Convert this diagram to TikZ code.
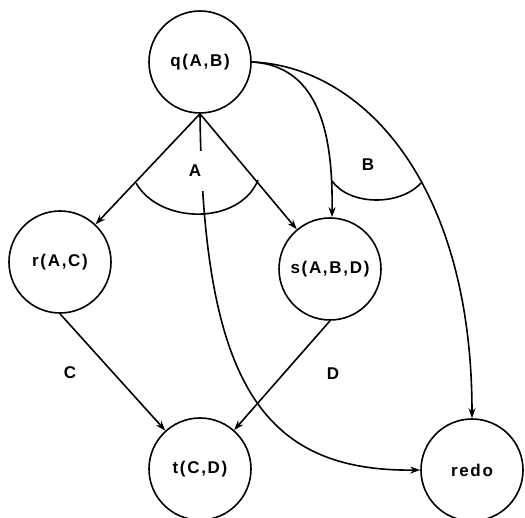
\documentclass[tikz,border=0pt]{standalone}
\usepackage{fontspec}
\setmainfont{Liberation Sans}
\newfontfamily\labfont[LetterSpace=10]{Liberation Sans}
\usetikzlibrary{arrows.meta}
\begin{document}
\begin{tikzpicture}[x=1pt,y=-1pt,
  state/.style={circle,draw,line width=1.6pt,minimum size=102pt,inner sep=0pt,font=\labfont\bfseries\fontsize{17}{19}\selectfont},
  lbl/.style={font=\labfont\bfseries\fontsize{17}{19}\selectfont},
  edge/.style={line width=1.6pt,-{Stealth[length=10pt,width=7pt]}},
  plain/.style={line width=1.6pt}]
\useasboundingbox[fill=white] (0,0) rectangle (525,518);
\node[state] (q) at (200,62) {q(A,B)};
\node[state] (r) at (60,262) {r(A,C)};
\node[state] (s) at (330,269) {s(A,B,D)};
\node[state] (t) at (200,469) {t(C,D)};
\node[state] (redo) at (472,470) {redo};
\coordinate (a1) at (136,183);
\coordinate (a2) at (258,180);
\coordinate (b1) at (332,181);
\coordinate (b2) at (421,183);
\draw[edge] (q.south) -- (r);
\draw[edge] (q.south) -- (s);
\draw[edge] (q.south) .. controls (203,380) and (260,472) .. (redo.west);
\draw[edge] (q.east) .. controls (322,66) and (333,140) .. ([xshift=2pt]s.north);
\draw[edge] (q.east) .. controls (360,66) and (472,180) .. (redo.north);
\draw[edge] (r.south) -- (t);
\draw[edge] (s.south) -- (t);
\draw[plain] (a1) .. controls (160,225) and (240,225) .. (a2);
\draw[plain] (b1) .. controls (350,206) and (400,206) .. (b2);
\node[lbl,fill=white,minimum width=28pt,minimum height=40pt,inner sep=0pt] (la) at (195,171) {A};
\node[lbl] (lb) at (368,165) {B};
\node[lbl] (lc) at (70,373) {C};
\node[lbl] (ld) at (333,374) {D};
\end{tikzpicture}
\end{document}
